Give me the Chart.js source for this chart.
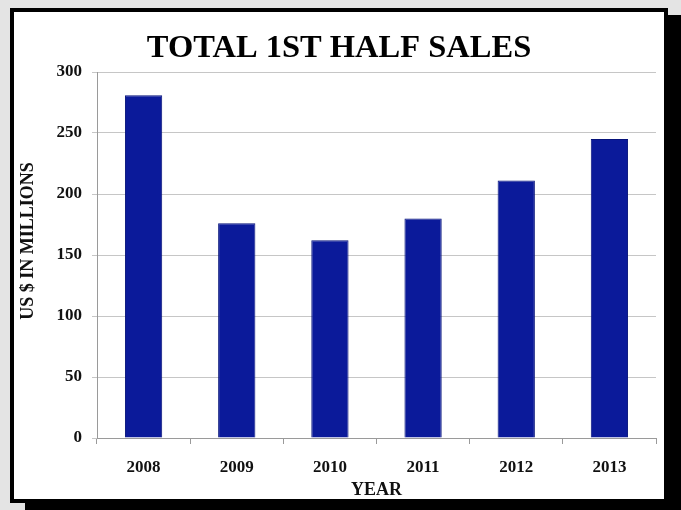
<!DOCTYPE html>
<html>
<head>
<meta charset="utf-8">
<script src="https://cdn.jsdelivr.net/npm/chart.js@4"></script>
<style>
  html, body { margin: 0; padding: 0; }
  body { width: 681px; height: 510px; background: #e4e4e4; overflow: hidden; position: relative; }
  #frame {
    position: absolute; left: 10px; top: 8px; width: 650px; height: 487px;
    border: 4px solid #000; background: #fff; box-shadow: 15px 7px 0 #000;
  }
  #chart { display: block; }
</style>
</head>
<body>
<div id="frame"><canvas id="chart" width="650" height="487"></canvas></div>
<script>
const years = ["2008", "2009", "2010", "2011", "2012", "2013"]
const sales = [281, 176, 162, 180, 211, 245]
const yTicks = [0, 50, 100, 150, 200, 250, 300]

const serif = "'Liberation Serif', 'Times New Roman', serif"
const gridGray = "#c6c6c6"

const frameTweaks = {
  id: "frameTweaks",
  // title is centred on the whole slide, not on the padded layout
  afterLayout(chart) {
    if (chart.titleBlock) chart.titleBlock.right = chart.width
  },
  // y title sits a bit above the plot's middle in the original, so draw it by hand
  afterDraw(chart) {
    const ctx = chart.ctx
    ctx.save()
    ctx.translate(14, 229)
    ctx.rotate(-Math.PI / 2)
    ctx.font = "bold 18px " + serif
    ctx.fillStyle = "#111"
    ctx.textAlign = "center"
    ctx.textBaseline = "middle"
    ctx.fillText("US $ IN MILLIONS", 0, 0)
    ctx.restore()
  },
}

new Chart(document.getElementById("chart"), {
  type: "bar",
  data: {
    labels: years,
    datasets: [{
      data: sales,
      backgroundColor: "#0b1a9a",
      borderColor: "#06127a",
      borderWidth: 1,
      categoryPercentage: 0.8,
      barPercentage: 0.5,
    }],
  },
  plugins: [frameTweaks],
  options: {
    responsive: false,
    animation: false,
    layout: { padding: { left: 0, right: 8, top: 0, bottom: 0 } },
    plugins: {
      legend: { display: false },
      tooltip: { enabled: false },
      title: {
        display: true,
        text: "TOTAL 1ST HALF SALES",
        color: "#000",
        font: { family: serif, size: 32.5, weight: "bold", lineHeight: 1.2 },
        padding: { top: 17, bottom: 4 },
      },
    },
    scales: {
      x: {
        grid: { display: true, drawOnChartArea: false, drawTicks: true, tickLength: 6, color: "#9a9a9a" },
        border: { color: "#9a9a9a" },
        ticks: { color: "#111", font: { family: serif, size: 17, weight: "bold" }, padding: 13 },
        title: {
          display: true, text: "YEAR", color: "#111",
          font: { family: serif, size: 18, weight: "bold", lineHeight: 1 },
          padding: { top: 0, bottom: 0 },
        },
        afterFit: (scale) => { scale.height = 61 },
      },
      y: {
        min: 0,
        max: 300,
        afterBuildTicks: (scale) => { scale.ticks = yTicks.map((v) => ({ value: v })) },
        grid: { color: gridGray, tickLength: 5 },
        border: { color: "#9a9a9a" },
        ticks: { color: "#111", font: { family: serif, size: 17, weight: "bold" }, padding: 10 },
        afterFit: (scale) => { scale.width = 83 },
      },
    },
  },
})
</script>
</body>
</html>
